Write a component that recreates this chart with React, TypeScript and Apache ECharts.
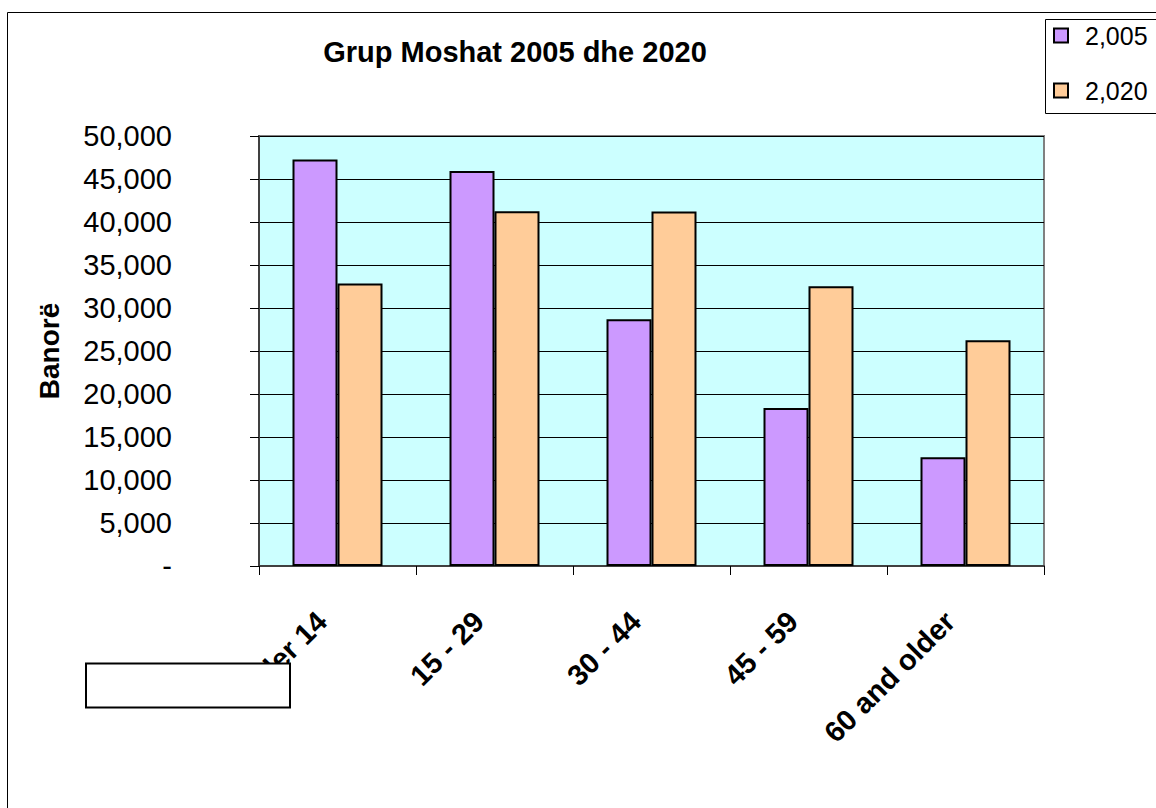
import React, { useEffect, useRef } from "react";
import * as echarts from "echarts";

const categories = ["Under 14", "15 - 29", "30 - 44", "45 - 59", "60 and older"];
const seriesNames = ["2,005", "2,020"];
const values2005 = [47260, 45930, 28690, 18370, 12640];
const values2020 = [32840, 41240, 41210, 32520, 26240];
const yMin = 0;
const yMax = 50000;
const yInterval = 5000;
const titleText = "Grup Moshat 2005 dhe 2020";
const yAxisTitle = "Banorë";

const FONT = "'Liberation Sans', Arial, sans-serif";

export default function App() {
  const ref = useRef<HTMLDivElement>(null);
  useEffect(() => {
    document.body.style.margin = "0";
    const chart = echarts.init(ref.current!, null, { renderer: "svg" });
    chart.setOption({
      animation: false,
      backgroundColor: "#ffffff",
      title: {
        text: titleText,
        left: 510,
        top: 32,
        textAlign: "center",
        textStyle: { fontFamily: FONT, fontSize: 29, fontWeight: "bold", color: "#000" },
      },
      legend: {
        orient: "vertical",
        left: 1053,
        top: 23,
        padding: 0,
        itemWidth: 14,
        itemHeight: 14,
        itemGap: 30,
        icon: "rect",
        data: seriesNames,
        textStyle: {
          fontFamily: FONT,
          fontSize: 25,
          color: "#000",
          lineHeight: 25,
          padding: [0, 0, 0, 12],
        },
      },
      grid: {
        left: 259,
        top: 136,
        right: 112,
        bottom: 242,
        show: true,
        backgroundColor: "#CCFFFF",
        borderColor: "#808080",
        borderWidth: 2,
        containLabel: false,
      },
      xAxis: {
        type: "category",
        data: categories,
        axisLine: { show: true, lineStyle: { color: "#404040", width: 2 } },
        axisTick: { show: true, length: 9, lineStyle: { color: "#000", width: 1 } },
        axisLabel: {
          rotate: 45,
          interval: 0,
          margin: 35,
          padding: [0, 22, 0, 0],
          fontFamily: FONT,
          fontSize: 29,
          fontWeight: "bold",
          color: "#000",
        },
        splitLine: { show: false },
      },
      yAxis: {
        type: "value",
        min: yMin,
        max: yMax,
        interval: yInterval,
        name: yAxisTitle,
        nameLocation: "middle",
        nameRotate: 90,
        nameGap: 196,
        nameTextStyle: { fontFamily: FONT, fontSize: 28, fontWeight: "bold", color: "#000" },
        axisLine: { show: true, lineStyle: { color: "#404040", width: 2 } },
        axisTick: { show: true, inside: false, length: 9, lineStyle: { color: "#000", width: 1 } },
        axisLabel: {
          margin: 87,
          fontFamily: FONT,
          fontSize: 29,
          color: "#000",
          formatter: (v: number) => (v === 0 ? "-" : v.toLocaleString("en-US")),
        },
        splitLine: { show: true, lineStyle: { color: "#000", width: 1 } },
      },
      series: [
        {
          name: seriesNames[0],
          type: "bar",
          data: values2005,
          barWidth: 45,
          barGap: "0%",
          itemStyle: { color: "#CC99FF", borderColor: "#000", borderWidth: 2 },
        },
        {
          name: seriesNames[1],
          type: "bar",
          data: values2020,
          barWidth: 45,
          barGap: "0%",
          itemStyle: { color: "#FFCC99", borderColor: "#000", borderWidth: 2 },
        },
      ],
      graphic: [
        {
          type: "rect",
          z: 100,
          shape: { x: 7.5, y: 12.5, width: 1300, height: 1000 },
          style: { fill: "none", stroke: "#000", lineWidth: 1 },
          silent: true,
        },
        {
          type: "rect",
          z: 100,
          shape: { x: 1045.5, y: 19.5, width: 200, height: 94 },
          style: { fill: "none", stroke: "#000", lineWidth: 1 },
          silent: true,
        },
        {
          type: "rect",
          z: 100,
          shape: { x: 86, y: 663.5, width: 204, height: 44 },
          style: { fill: "#fff", stroke: "#000", lineWidth: 2 },
          silent: true,
        },
      ],
    });
    return () => chart.dispose();
  }, []);
  return <div ref={ref} style={{ width: 1156, height: 808 }} />;
}
